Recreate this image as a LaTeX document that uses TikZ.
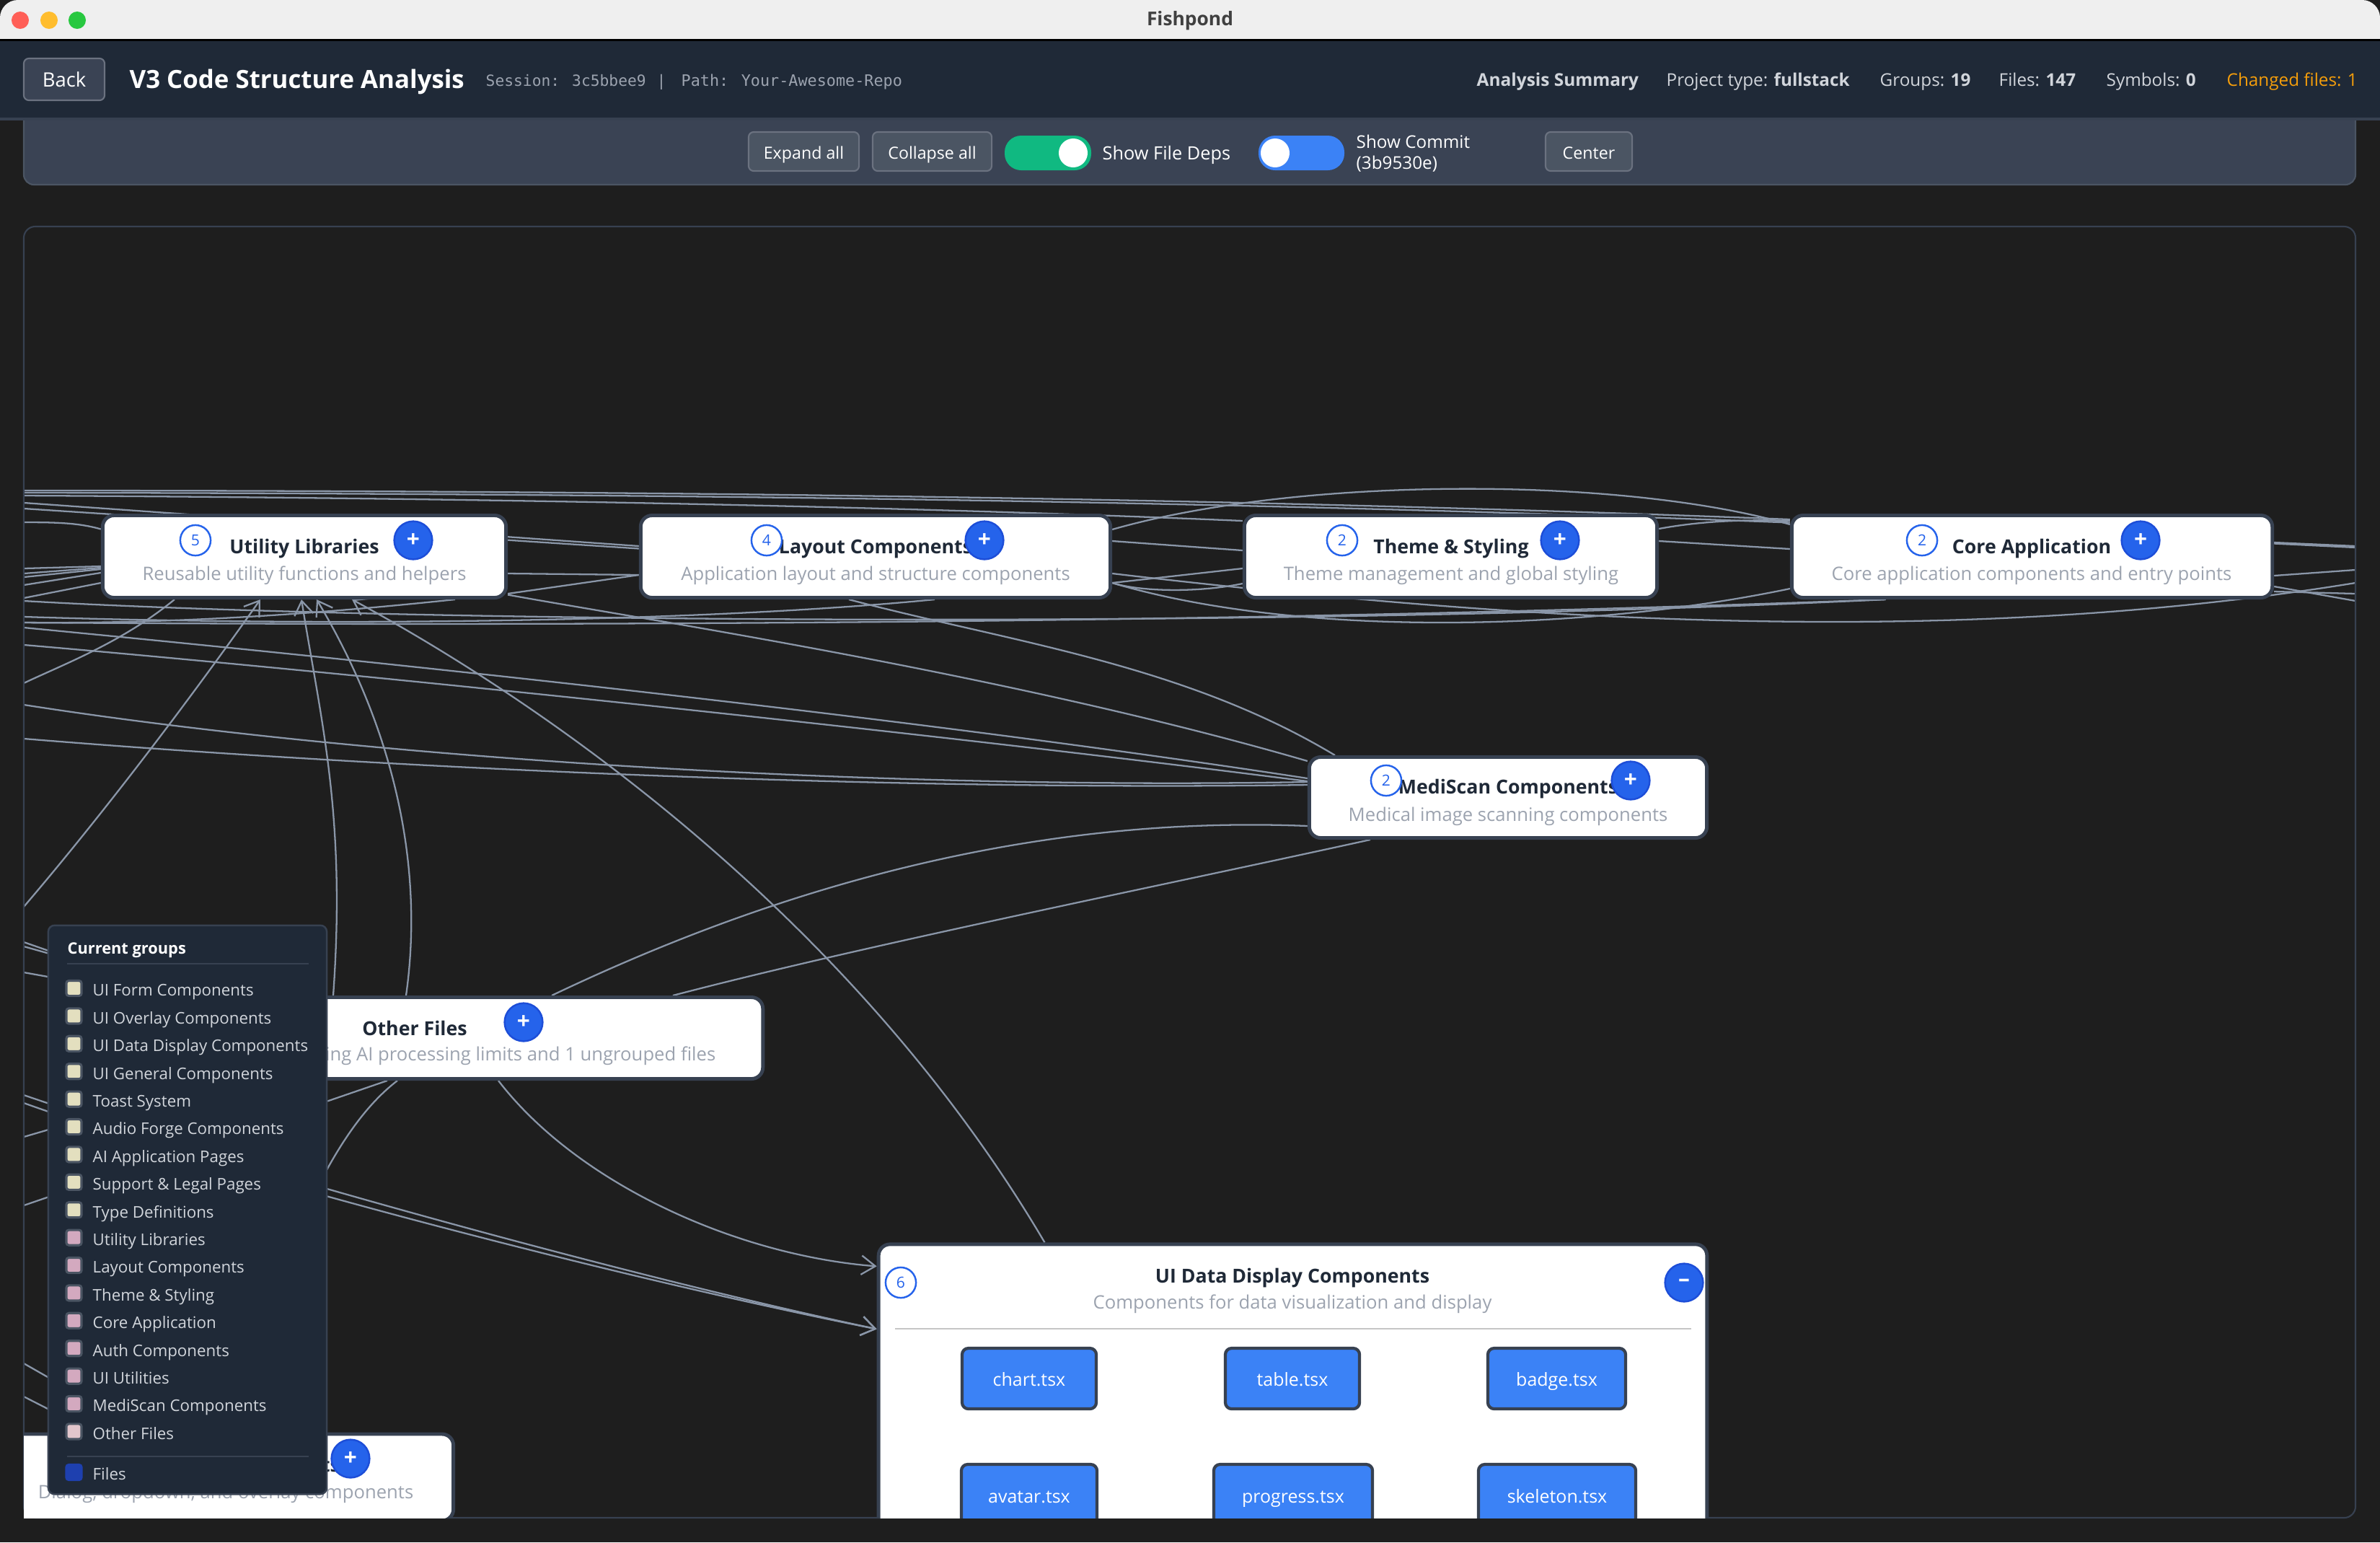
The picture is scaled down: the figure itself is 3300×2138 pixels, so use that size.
\documentclass[tikz,border=0pt]{standalone}
\usepackage{fontspec}
\setmainfont{Open Sans}
\newfontfamily\monofont{DejaVu Sans Mono}
\usetikzlibrary{calc,positioning,arrows.meta}
\definecolor{canvasbg}{HTML}{1E1E1E}
\definecolor{barbg}{HTML}{EFEFEF}
\definecolor{headerbg}{HTML}{1F2937}
\definecolor{toolbg}{HTML}{3A4354}
\definecolor{slateline}{HTML}{374151}
\definecolor{btnbg}{HTML}{4B5563}
\definecolor{btnline}{HTML}{6B7280}
\definecolor{depline}{HTML}{8A96A8}
\definecolor{plusblue}{HTML}{2563EB}
\definecolor{plusline}{HTML}{1D4ED8}
\definecolor{filebox}{HTML}{3B82F6}
\definecolor{togglegreen}{HTML}{10B981}
\definecolor{subgray}{HTML}{9CA3AF}
\definecolor{statgray}{HTML}{D1D5DB}
\definecolor{changedorange}{HTML}{F59E0B}
\definecolor{closered}{HTML}{FF5F57}
\definecolor{minyellow}{HTML}{FFBD2E}
\definecolor{zoomgreen}{HTML}{28C840}
\definecolor{creamkey}{HTML}{E3DFBF}
\definecolor{pinkkey}{HTML}{D3A9BF}
\definecolor{palekey}{HTML}{E2C6CC}
\definecolor{fileskey}{HTML}{1E40AF}
\pgfdeclarelayer{pagelayer}
\pgfdeclarelayer{edgelayer}
\pgfsetlayers{pagelayer,edgelayer,main}
\tikzset{
	x=0.01cm,
	y=-0.01cm,
	textline/.style={text height=1.55ex, text depth=0.4ex, inner sep=0pt},
	depedge/.style={draw=depline, line width=0.65pt},
	deparrow/.style={depedge, -{Straight Barb[length=5.5pt,width=7.5pt]}},
	groupbox/.style={draw=slateline, line width=1.4pt, fill=white, rounded corners=4.5pt, inner sep=0pt},
	grouptitle/.style={textline, text=headerbg, font=\fontsize{7.6}{10}\selectfont\bfseries},
	groupsub/.style={textline, text=subgray, font=\fontsize{7.3}{9}\selectfont},
	windowdot/.style={circle, minimum size=0.24cm, inner sep=0pt},
	togglekn/.style={circle, fill=white, minimum size=0.4cm, inner sep=0pt},
	badge/.style={circle, draw=plusblue, line width=0.7pt, fill=white, text=plusblue, minimum size=12pt, inner sep=0pt, font=\fontsize{6}{7}\selectfont},
	plusbtn/.style={circle, draw=plusline, line width=0.7pt, fill=plusblue, text=white, minimum size=15pt, inner sep=0pt, font=\fontsize{9}{9}\selectfont\bfseries},
	filenode/.style={textline, draw=slateline, line width=1.2pt, fill=filebox, text=white, rounded corners=2.5pt, font=\fontsize{7.1}{8}\selectfont},
	toolbtn/.style={textline, draw=btnline, line width=0.6pt, fill=btnbg, text=white, rounded corners=2pt, font=\fontsize{6.6}{8}\selectfont},
	statlabel/.style={textline, anchor=west, text=statgray, font=\fontsize{6.9}{8}\selectfont},
	monolabel/.style={textline, anchor=west, text=subgray, font=\fontsize{6.05}{8}\selectfont\monofont},
	legendkey/.style={draw=btnbg, line width=0.9pt, rounded corners=1pt, inner sep=0pt, minimum size=6pt},
	legendlabel/.style={textline, anchor=west, text=statgray, font=\fontsize{6.35}{8}\selectfont},
}

\begin{document}
\begin{tikzpicture}
	\useasboundingbox (0,0) rectangle (3300,2138);
	\begin{pgfonlayer}{pagelayer}
		\fill[canvasbg] (0,0) rectangle (3300,2138);
	\end{pgfonlayer}

	% toolbar goes under the header
	\draw[btnbg, fill=toolbg, line width=0.6pt, rounded corners=4pt] (33,150) -- (33,256) -- (3266,256) -- (3266,150) -- cycle;

	% window bar and header
	\fill[barbg, rounded corners=7pt] (0,0) rectangle (3300,80);
	\fill[black] (0,54) rectangle (3300,57);
	\fill[headerbg] (0,57) rectangle (3300,163);
	\fill[slateline] (0,163) rectangle (3300,167);
	\node[windowdot, fill=closered] (closedot) at (28,28) {};
	\node[windowdot, fill=minyellow] (mindot) at (68,28) {};
	\node[windowdot, fill=zoomgreen] (zoomdot) at (107,28) {};
	\node[textline, text=black!75, font=\fontsize{7.5}{9}\selectfont\bfseries] (apptitle) at (1650,25) {Fishpond};

	\node[toolbtn, fill=toolbg, minimum width=1.12cm, minimum height=0.58cm, font=\fontsize{7.8}{9}\selectfont] (backbtn) at (89,110) {Back};
	\node[textline, anchor=west, text=white, font=\fontsize{9.9}{12}\selectfont\bfseries] (pagetitle) at (179,112) {V3 Code Structure Analysis};
	\node[monolabel] (session) at (673,109) {Session: 3c5bbee9};
	\node[monolabel] (pipe) at (910,109) {|};
	\node[monolabel, font=\fontsize{6.2}{8}\selectfont\monofont] (pathlabel) at (944,109) {Path: Your-Awesome-Repo};
	\node[statlabel, font=\fontsize{6.95}{8}\selectfont\bfseries] (summary) at (2047,109) {Analysis Summary};
	\node[statlabel] (projtype) at (2310,109) {Project type: \textbf{fullstack}};
	\node[statlabel] (groups) at (2606,109) {Groups: \textbf{19}};
	\node[statlabel] (filecount) at (2771,109) {Files: \textbf{147}};
	\node[statlabel] (symbols) at (2920,109) {Symbols: \textbf{0}};
	\node[statlabel, text=changedorange] (changed) at (3087,109) {Changed files: 1};

	% toolbar controls
	\node[toolbtn, minimum width=1.53cm, minimum height=0.54cm] (expand) at (1114.5,210) {Expand all};
	\node[toolbtn, minimum width=1.65cm, minimum height=0.54cm] (collapse) at (1292.5,210) {Collapse all};
	\fill[togglegreen, rounded corners=6.5pt] (1393,188) rectangle (1513,236);
	\node[togglekn] (depsknob) at (1488,212) {};
	\node[statlabel, text=white, font=\fontsize{7.2}{8}\selectfont] (showdeps) at (1528,211) {Show File Deps};
	\fill[filebox, rounded corners=6.5pt] (1745,188) rectangle (1864,236);
	\node[togglekn] (commitknob) at (1768,212) {};
	\node[anchor=west, text=white, inner sep=0pt, align=left, font=\fontsize{6.9}{8.2}\selectfont] (showcommit) at (1880,213) {Show Commit\\(3b9530e)};
	\node[toolbtn, minimum width=1.2cm, minimum height=0.54cm] (centerbtn) at (2203,210) {Center};

	% canvas
	\draw[slateline, line width=0.6pt, rounded corners=4.5pt] (33,314) rectangle (3266,2104);

	\begin{scope}
		\clip (33,314) rectangle (3266,2104);
		% groups
		\node[groupbox, minimum width=5.59cm, minimum height=1.14cm] (utility) at (422,771.5) {};
		\node[groupbox, minimum width=6.51cm, minimum height=1.14cm] (layout) at (1214,771.5) {};
		\node[groupbox, minimum width=5.72cm, minimum height=1.14cm] (theme) at (2011.5,771.5) {};
		\node[groupbox, minimum width=6.66cm, minimum height=1.14cm] (core) at (2817.5,771.5) {};
		\node[groupbox, minimum width=5.51cm, minimum height=1.12cm] (mediscan) at (2091,1105.5) {};
		\node[groupbox, minimum width=9.65cm, minimum height=1.13cm] (other) at (575,1439) {};
		\node[groupbox, minimum width=6.31cm, minimum height=1.20cm] (overlay) at (313,2048) {};
		\node[groupbox, minimum width=11.48cm, minimum height=5.4cm] (uidata) at (1792.5,1995) {};

		\node[grouptitle] (utilitytitle) at (422,757) {Utility Libraries};
		\node[groupsub] (utilitysub) at (422,794) {Reusable utility functions and helpers};
		\node[grouptitle] (layouttitle) at (1214,757) {Layout Components};
		\node[groupsub] (layoutsub) at (1214,794) {Application layout and structure components};
		\node[grouptitle] (themetitle) at (2012,757) {Theme \& Styling};
		\node[groupsub] (themesub) at (2012,794) {Theme management and global styling};
		\node[grouptitle] (coretitle) at (2817,757) {Core Application};
		\node[groupsub] (coresub) at (2817,794) {Core application components and entry points};
		\node[grouptitle] (mediscantitle) at (2091,1090) {MediScan Components};
		\node[groupsub] (mediscansub) at (2091,1128) {Medical image scanning components};
		\node[grouptitle] (othertitle) at (575,1425) {Other Files};
		\node[groupsub, anchor=east] (othersub) at (993,1460) {ing AI processing limits and 1 ungrouped files};
		\node[grouptitle] (overlaytitle) at (313,2030) {UI Overlay Components};
		\node[groupsub] (overlaysub) at (313,2067) {Dialog, dropdown, and overlay components};
		\node[grouptitle] (uidatatitle) at (1792,1768) {UI Data Display Components};
		\node[groupsub] (uidatasub) at (1792,1804) {Components for data visualization and display};
		\draw[gray!45, line width=0.6pt] (1241,1842) -- (2345,1842);

		\node[badge] (utilitybadge) at (271,749) {5};
		\node[badge] (layoutbadge) at (1063,749) {4};
		\node[badge] (themebadge) at (1861,749) {2};
		\node[badge] (corebadge) at (2665,749) {2};
		\node[badge] (mediscanbadge) at (1922,1082) {2};
		\node[badge] (uidatabadge) at (1249,1778) {6};
		\node[plusbtn] (utilityplus) at (573,749) {+};
		\node[plusbtn] (layoutplus) at (1365,749) {+};
		\node[plusbtn] (themeplus) at (2163,749) {+};
		\node[plusbtn] (coreplus) at (2968,749) {+};
		\node[plusbtn] (mediscanplus) at (2261,1082) {+};
		\node[plusbtn] (otherplus) at (726,1417) {+};
		\node[plusbtn] (overlayplus) at (486,2022) {+};
		\node[plusbtn] (uidatatoggle) at (2335,1778) {--};

		\node[filenode, minimum width=1.86cm, minimum height=0.84cm] (chart) at (1427,1911) {chart.tsx};
		\node[filenode, minimum width=1.86cm, minimum height=0.84cm] (tablefile) at (1792,1911) {table.tsx};
		\node[filenode, minimum width=1.91cm, minimum height=0.84cm] (badgefile) at (2158.5,1911) {badge.tsx};
		\node[filenode, minimum width=1.88cm, minimum height=0.86cm] (avatar) at (1427,2073) {avatar.tsx};
		\node[filenode, minimum width=2.20cm, minimum height=0.86cm] (progress) at (1793,2073) {progress.tsx};
		\node[filenode, minimum width=2.18cm, minimum height=0.86cm] (skeleton) at (2159,2073) {skeleton.tsx};
	\end{scope}

	% free ends of the dependencies that leave the canvas
	\foreach \ly [count=\i] in {680,683,687,697,705,724,788,795,800,811,829,833,855,863,863,870,894,947,977,1024,1257,1306,1312,1348,1518,1529,1576,1671,1890,1936}
		\coordinate (left\i) at (33,\ly);
	\foreach \ry [count=\i] in {757,759,790,808,823,833}
		\coordinate (right\i) at (3266,\ry);

	\begin{pgfonlayer}{edgelayer}
	\clip (33,314) rectangle (3266,2104);
	% top row
	\draw[depedge] (left1) .. controls (900,680) and (1700,690) .. ([shift={(0,-51.5)}]core.west);
	\draw[depedge] (left2) .. controls (900,684) and (1700,694) .. ([shift={(0,-47)}]core.west);
	\draw[depedge] (left3) .. controls (600,690) and (1200,700) .. ([shift={(0,-49.5)}]theme.west);
	\draw[depedge] (left4) -- ([shift={(0,-14.5)}]layout.west);
	\draw[depedge] (left5) -- ([shift={(0,-11)}]layout.west);
	\draw[depedge] (left6) .. controls (80,724) and (110,725) .. ([shift={(0,-38)}]utility.west);
	\draw[depedge] (left7) -- ([shift={(0,13.5)}]utility.west);
	\draw[depedge] (left8) -- ([shift={(0,15.5)}]utility.west);
	\draw[depedge] (left9) -- ([shift={(0,17.5)}]utility.west);
	\draw[depedge] (left10) -- ([shift={(0,22.5)}]utility.west);
	\draw[depedge] (left11) -- ([shift={(0,36.5)}]utility.west);
	\draw[depedge] (left12) .. controls (500,860) and (1700,875) .. ([shift={(-203,0)}]core.south);
	\draw[depedge] (left15) .. controls (800,868) and (1700,865) .. ([shift={(-203,0)}]core.south);
	\draw[depedge] (left13) .. controls (500,870) and (1000,860) .. ([shift={(82,0)}]layout.south);
	\draw[depedge] (left14) .. controls (250,865) and (450,850) .. ([shift={(209,0)}]utility.south);
	\draw[depedge] (left18) .. controls (90,920) and (170,890) .. ([shift={(-180,0)}]utility.south);
	\draw[depedge] ([shift={(0,23.5)}]utility.east) -- ([shift={(0,25.5)}]layout.west);
	\draw[depedge] ([shift={(0,51.5)}]utility.east) -- ([shift={(0,25.5)}]layout.west);
	\draw[depedge] ([shift={(0,-37.5)}]layout.east) .. controls (1800,660) and (2250,660) .. ([shift={(0,-44.5)}]core.west);
	\draw[depedge] ([shift={(0,-21.5)}]layout.east) -- ([shift={(0,-8.5)}]theme.west);
	\draw[depedge] ([shift={(0,-21.5)}]theme.east) -- ([shift={(0,-10.5)}]core.west);
	\draw[depedge] ([shift={(0,-38.5)}]theme.east) .. controls (2360,722) and (2420,720) .. ([shift={(0,-49.5)}]core.west);
	\draw[depedge] ([shift={(0,36.5)}]layout.east) .. controls (1580,820) and (1660,822) .. ([shift={(0,37.5)}]theme.west);
	\draw[depedge] ([shift={(0,36.5)}]layout.east) -- ([shift={(0,16.5)}]theme.west);
	\draw[depedge] ([shift={(0,36.5)}]layout.east) .. controls (1800,885) and (2200,875) .. ([shift={(0,44.5)}]core.west);
	\draw[depedge] ([shift={(0,23.5)}]layout.east) .. controls (2100,860) and (2700,900) .. (right4);
	\draw[depedge] ([shift={(0,-19.5)}]core.east) -- (right1);
	\draw[depedge] ([shift={(0,-18)}]core.east) -- (right2);
	\draw[depedge] ([shift={(0,26.5)}]core.east) -- (right3);
	\draw[depedge] ([shift={(0,48.5)}]core.east) -- (right5);
	\draw[depedge] ([shift={(0,41.5)}]core.east) -- (right6);
	% towards MediScan
	\draw[depedge] (left16) .. controls (400,905) and (1200,985) .. ([shift={(0,-26.5)}]mediscan.west);
	\draw[depedge] (left17) .. controls (400,925) and (1200,1005) .. ([shift={(0,-22.5)}]mediscan.west);
	\draw[depedge] (left19) .. controls (500,1050) and (1200,1095) .. ([shift={(0,-21.5)}]mediscan.west);
	\draw[depedge] (left20) .. controls (500,1062) and (1200,1097) .. ([shift={(0,-17.5)}]mediscan.west);
	\draw[depedge] ([shift={(0,53)}]utility.east) .. controls (900,860) and (1400,935) .. ([shift={(0,-50.5)}]mediscan.west);
	\draw[depedge] ([shift={(-37,0)}]layout.south) .. controls (1400,890) and (1640,920) .. ([shift={(-240,0)}]mediscan.north);
	% into Utility Libraries
	\draw[deparrow] (left21) .. controls (150,1120) and (270,960) .. ([shift={(-61,0)}]utility.south);
	\draw[deparrow] ([shift={(-113,0)}]other.north) .. controls (480,1130) and (445,1000) .. ([shift={(-4,0)}]utility.south);
	\draw[deparrow] ([shift={(-12,0)}]other.north) .. controls (590,1190) and (540,1000) .. ([shift={(17,0)}]utility.south);
	\draw[deparrow] ([shift={(-344,0)}]uidata.north) .. controls (1200,1300) and (800,1000) .. ([shift={(66,0)}]utility.south);
	% Other Files
	\draw[depedge] ([shift={(190,0)}]other.north) .. controls (1100,1220) and (1450,1130) .. ([shift={(0,39.5)}]mediscan.west);
	\draw[depedge] ([shift={(358,0)}]other.north) .. controls (1200,1310) and (1600,1230) .. ([shift={(-191,0)}]mediscan.south);
	\draw[deparrow] ([shift={(116,0)}]other.south) .. controls (800,1640) and (1020,1740) .. ([shift={(0,33)}]uidata.north west);
	\draw[depedge] ([shift={(-38,0)}]other.south) -- (left28);
	\draw[depedge] ([shift={(-24,0)}]other.south) .. controls (470,1560) and (400,1700) .. (overlay.north);
	\draw[depedge] (left27) -- ([shift={(-275,0)}]other.south);
	\draw[depedge] (left22) -- ([shift={(-330,0)}]other.north);
	\draw[depedge] (left23) -- ([shift={(-300,0)}]other.north);
	\draw[depedge] (left24) -- ([shift={(-364,0)}]other.north);
	\draw[deparrow] (left25) .. controls (300,1610) and (850,1765) .. ([shift={(0,120)}]uidata.north west);
	\draw[deparrow] (left26) .. controls (300,1625) and (850,1770) .. ([shift={(0,120)}]uidata.north west);
	\draw[depedge] (left29) -- ([shift={(-113,0)}]overlay.north);
	\draw[depedge] (left30) -- ([shift={(-183,0)}]overlay.north);
	\end{pgfonlayer}

	% legend panel
	\node[draw=slateline, line width=0.7pt, fill=headerbg, rounded corners=2.5pt, minimum width=3.86cm, minimum height=7.88cm, inner sep=0pt] (legend) at (260,1677) {};
	\node[textline, anchor=west, text=white, font=\fontsize{6.2}{8}\selectfont\bfseries] (legendtitle) at (93,1312) {Current groups};
	\draw[slateline, line width=0.6pt] (93,1336) -- (428,1336);
	\foreach \lname/\lcolor [count=\i from 0] in {UI Form Components/creamkey,UI Overlay Components/creamkey,UI Data Display Components/creamkey,UI General Components/creamkey,Toast System/creamkey,Audio Forge Components/creamkey,AI Application Pages/creamkey,Support \& Legal Pages/creamkey,Type Definitions/creamkey,Utility Libraries/pinkkey,Layout Components/pinkkey,Theme \& Styling/pinkkey,Core Application/pinkkey,Auth Components/pinkkey,UI Utilities/pinkkey,MediScan Components/pinkkey,Other Files/palekey}{
		\node[legendkey, fill=\lcolor] (key\i) at (102.5,{1370+38.4*\i}) {};
		\node[legendlabel] (keylabel\i) at (128,{1370+38.4*\i}) {\lname};
	}
	\draw[slateline, line width=0.6pt] (93,2019) -- (428,2019);
	\node[legendkey, draw=fileskey, fill=fileskey] (filekey) at (102.5,2041) {};
	\node[legendlabel] (filekeylabel) at (128,2041) {Files};
\end{tikzpicture}
\end{document}
